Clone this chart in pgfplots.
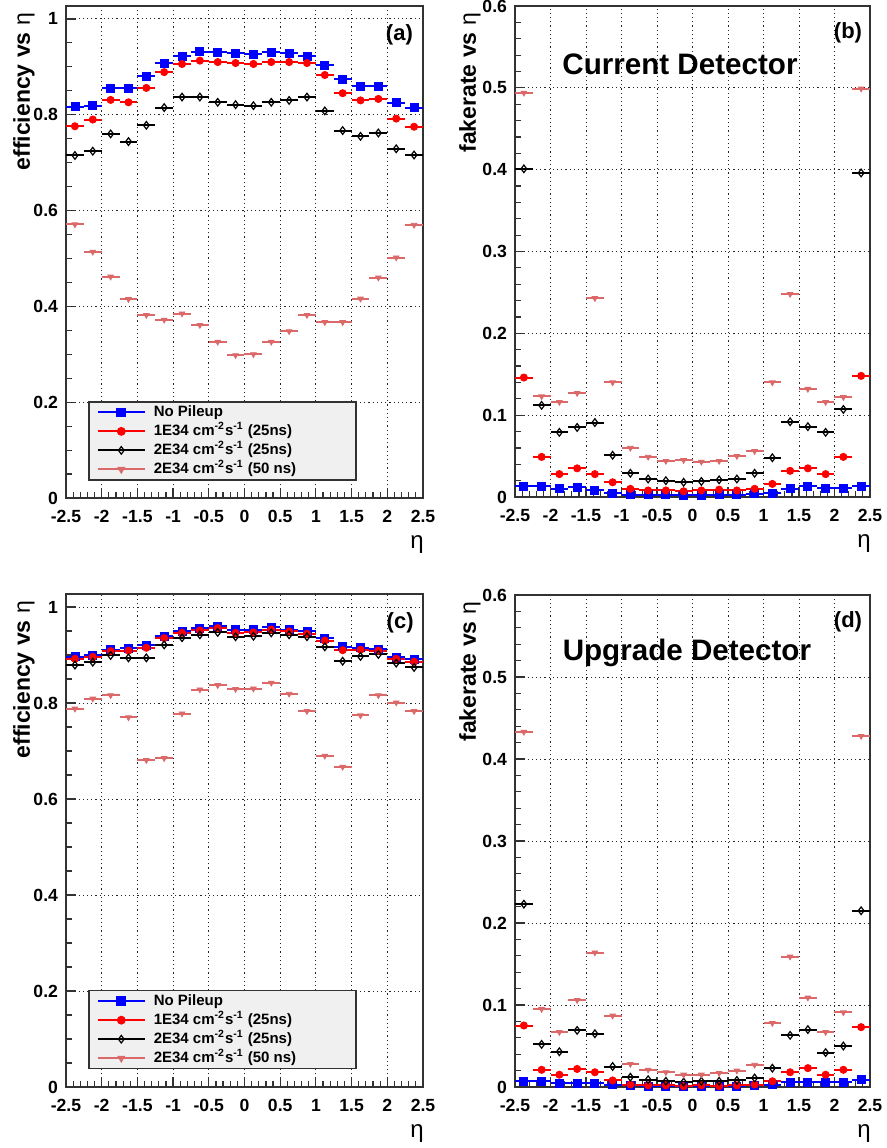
\documentclass[border=0pt]{standalone}
\usepackage{fontspec}
\setmainfont{Liberation Sans}
\usepackage{pgfplots}
\usepackage{pgfplotstable}
\pgfplotsset{compat=1.18}

\definecolor{rblue}{RGB}{0,0,255}
\definecolor{rred}{RGB}{255,0,0}
\definecolor{rpink}{RGB}{220,105,105}
\definecolor{frame}{RGB}{50,50,50}

\newcommand\tk{\bfseries\fontsize{8.8}{9}\selectfont}
\newcommand\lb{\bfseries\fontsize{11.5}{12}\selectfont}
\newcommand\lt[1]{\makebox[96pt][l]{#1}}

% eta bin centre, No Pileup, 1E34 25ns, 2E34 25ns, 2E34 50ns
\pgfplotstableread{
eta nopu r25 b25 p50
-2.375 0.817 0.776 0.715 0.571
-2.125 0.819 0.790 0.724 0.514
-1.875 0.856 0.831 0.760 0.462
-1.625 0.856 0.826 0.744 0.415
-1.375 0.880 0.856 0.778 0.382
-1.125 0.908 0.889 0.815 0.372
-0.875 0.922 0.906 0.837 0.385
-0.625 0.932 0.913 0.837 0.361
-0.375 0.931 0.910 0.826 0.326
-0.125 0.928 0.908 0.821 0.298
0.125 0.926 0.906 0.819 0.300
0.375 0.931 0.910 0.826 0.326
0.625 0.928 0.910 0.830 0.348
0.875 0.922 0.908 0.837 0.382
1.125 0.903 0.883 0.808 0.367
1.375 0.874 0.845 0.767 0.367
1.625 0.860 0.830 0.755 0.416
1.875 0.860 0.833 0.762 0.460
2.125 0.825 0.792 0.729 0.502
2.375 0.815 0.775 0.716 0.570
}\effcur

\pgfplotstableread{
eta nopu r25 b25 p50
-2.375 0.013 0.146 0.401 0.494
-2.125 0.013 0.049 0.112 0.123
-1.875 0.010 0.028 0.079 0.116
-1.625 0.012 0.035 0.085 0.127
-1.375 0.008 0.028 0.091 0.243
-1.125 0.005 0.018 0.051 0.140
-0.875 0.003 0.010 0.029 0.060
-0.625 0.003 0.008 0.022 0.049
-0.375 0.003 0.008 0.020 0.044
-0.125 0.002 0.007 0.018 0.045
0.125 0.002 0.008 0.019 0.043
0.375 0.003 0.009 0.021 0.044
0.625 0.003 0.008 0.022 0.050
0.875 0.004 0.010 0.029 0.056
1.125 0.005 0.016 0.048 0.140
1.375 0.010 0.032 0.092 0.248
1.625 0.013 0.035 0.086 0.132
1.875 0.011 0.028 0.079 0.116
2.125 0.011 0.049 0.107 0.122
2.375 0.013 0.148 0.396 0.499
}\fakecur

\pgfplotstableread{
eta nopu r25 b25 p50
-2.375 0.896 0.892 0.879 0.788
-2.125 0.899 0.896 0.885 0.809
-1.875 0.911 0.908 0.899 0.816
-1.625 0.914 0.909 0.894 0.770
-1.375 0.920 0.915 0.894 0.681
-1.125 0.939 0.935 0.921 0.685
-0.875 0.949 0.946 0.936 0.778
-0.625 0.956 0.951 0.942 0.828
-0.375 0.960 0.956 0.947 0.837
-0.125 0.953 0.946 0.938 0.829
0.125 0.953 0.947 0.939 0.830
0.375 0.958 0.953 0.946 0.842
0.625 0.953 0.949 0.942 0.819
0.875 0.949 0.944 0.938 0.783
1.125 0.935 0.930 0.917 0.690
1.375 0.917 0.910 0.887 0.667
1.625 0.915 0.911 0.897 0.774
1.875 0.912 0.909 0.901 0.816
2.125 0.895 0.892 0.883 0.801
2.375 0.891 0.886 0.874 0.783
}\effupg

\pgfplotstableread{
eta nopu r25 b25 p50
-2.375 0.007 0.075 0.223 0.433
-2.125 0.007 0.021 0.052 0.095
-1.875 0.005 0.015 0.043 0.067
-1.625 0.005 0.022 0.069 0.106
-1.375 0.005 0.018 0.065 0.164
-1.125 0.003 0.008 0.025 0.087
-0.875 0.002 0.003 0.012 0.028
-0.625 0.001 0.002 0.009 0.021
-0.375 0.001 0.002 0.007 0.018
-0.125 0.001 0.001 0.006 0.015
0.125 0.001 0.002 0.007 0.015
0.375 0.001 0.001 0.007 0.017
0.625 0.001 0.002 0.008 0.020
0.875 0.002 0.003 0.011 0.027
1.125 0.003 0.007 0.023 0.078
1.375 0.006 0.018 0.063 0.159
1.625 0.006 0.023 0.070 0.109
1.875 0.006 0.015 0.042 0.067
2.125 0.006 0.021 0.050 0.091
2.375 0.009 0.073 0.215 0.428
}\fakeupg

\pgfplotsset{
  rootaxis/.style={
    scale only axis, anchor=south west,
    xmin=-2.5, xmax=2.5,
    xtick={-2.5,-2,...,2.5}, minor x tick num=4,
    tick pos=left, tick align=inside,
    major tick length=5pt, minor tick length=2.8pt,
    tick style={frame, line width=0.6pt},
    axis line style={frame, line width=0.8pt},
    grid=major,
    major grid style={black!85, line width=0.45pt, dash pattern=on 0.6pt off 1.5pt},
    /pgf/number format/assume math mode=true,
    ticklabel style={font=\tk},
    yticklabel style={xshift=-0.5pt},
    xticklabel style={yshift=-2.5pt},
    xlabel={\mdseries η},
    xlabel style={at={(rel axis cs:0.983,-0.095)}, anchor=center, font=\fontsize{12}{13}\selectfont},
    ylabel style={anchor=east, font=\lb},
    legend cell align=left,
    legend style={at={(rel axis cs:0.0616,0.197)}, anchor=north west,
      fill=black!6, draw=frame, line width=0.8pt,
      font=\bfseries\fontsize{7.5}{8}\selectfont,
      inner xsep=4pt, inner ysep=0.5pt, row sep=0pt, column sep=3pt,
      nodes={inner sep=1pt, text height=5.8pt, text depth=1.7pt}},
    legend image code/.code={
      \draw[#1, sharp plot, mark=none, line width=1pt] plot coordinates {(0pt,0pt) (23.5pt,0pt)};
      \draw[#1] plot coordinates {(11.75pt,0pt)};
    },
  },
  effaxis/.style={rootaxis, ymin=0, ymax=1.027, ytick={0,0.2,...,1}, minor y tick num=3,
    ylabel={efficiency vs {\mdseries η}}, ylabel style={at={(rel axis cs:-0.118,1)}}},
  fakeaxis/.style={rootaxis, ymin=0, ymax=0.6, ytick={0,0.1,...,0.6}, minor y tick num=4,
    ylabel={fakerate vs {\mdseries η}}, ylabel style={at={(rel axis cs:-0.127,1)}}},
  sNo/.style={only marks, color=rblue, mark=square*, mark size=2pt,
    error bars/.cd, x dir=both, x fixed=0.125, error mark=none,
    error bar style={rblue, line width=1pt}},
  sR/.style={only marks, color=rred, mark=*, mark size=1.8pt,
    error bars/.cd, x dir=both, x fixed=0.125, error mark=none,
    error bar style={rred, line width=1pt}},
  sB/.style={only marks, color=black, mark=diamond, mark size=1.9pt,
    mark options={fill=white, line width=0.6pt},
    error bars/.cd, x dir=both, x fixed=0.125, error mark=none,
    error bar style={black, line width=1pt}},
  sP/.style={only marks, color=rpink, mark=triangle*, mark size=1.6pt,
    mark options={rotate=180},
    error bars/.cd, x dir=both, x fixed=0.125, error mark=none,
    error bar style={rpink, line width=1pt}},
}

\begin{document}
\begin{tikzpicture}
\path[use as bounding box] (0pt,0pt) rectangle (443.5pt,-574pt);

% (a) efficiency, current detector
\begin{axis}[effaxis, at={(33pt,-249pt)}, width=178.5pt, height=246pt]
\addplot[sNo] table[x=eta, y=nopu] {\effcur};
\addlegendentry{\lt{No Pileup}}
\addplot[sR] table[x=eta, y=r25] {\effcur};
\addlegendentry{\lt{1E34 cm\textsuperscript{-2}s\textsuperscript{-1} (25ns)}}
\addplot[sB] table[x=eta, y=b25] {\effcur};
\addlegendentry{\lt{2E34 cm\textsuperscript{-2}s\textsuperscript{-1} (25ns)}}
\addplot[sP] table[x=eta, y=p50] {\effcur};
\addlegendentry{\lt{2E34 cm\textsuperscript{-2}s\textsuperscript{-1} (50 ns)}}
\node[font=\bfseries\fontsize{11}{12}\selectfont] at (axis cs:2.17,0.966) {(a)};
\end{axis}

% (b) fake rate, current detector
\begin{axis}[fakeaxis, at={(257.5pt,-248.5pt)}, width=177.5pt, height=245.5pt]
\addplot[sNo] table[x=eta, y=nopu] {\fakecur};
\addplot[sR] table[x=eta, y=r25] {\fakecur};
\addplot[sB] table[x=eta, y=b25] {\fakecur};
\addplot[sP] table[x=eta, y=p50] {\fakecur};
\node[font=\bfseries\fontsize{11}{12}\selectfont] at (axis cs:2.19,0.567) {(b)};
\node[font=\bfseries\fontsize{14.8}{16}\selectfont] at (axis cs:-0.176,0.529) {Current Detector};
\end{axis}

% (c) efficiency, upgrade detector
\begin{axis}[effaxis, at={(33pt,-543.5pt)}, width=178.5pt, height=246.5pt]
\addplot[sNo] table[x=eta, y=nopu] {\effupg};
\addlegendentry{\lt{No Pileup}}
\addplot[sR] table[x=eta, y=r25] {\effupg};
\addlegendentry{\lt{1E34 cm\textsuperscript{-2}s\textsuperscript{-1} (25ns)}}
\addplot[sB] table[x=eta, y=b25] {\effupg};
\addlegendentry{\lt{2E34 cm\textsuperscript{-2}s\textsuperscript{-1} (25ns)}}
\addplot[sP] table[x=eta, y=p50] {\effupg};
\addlegendentry{\lt{2E34 cm\textsuperscript{-2}s\textsuperscript{-1} (50 ns)}}
\node[font=\bfseries\fontsize{11}{12}\selectfont] at (axis cs:2.18,0.967) {(c)};
\end{axis}

% (d) fake rate, upgrade detector
\begin{axis}[fakeaxis, at={(257.5pt,-543.5pt)}, width=177.5pt, height=246pt]
\addplot[sNo] table[x=eta, y=nopu] {\fakeupg};
\addplot[sR] table[x=eta, y=r25] {\fakeupg};
\addplot[sB] table[x=eta, y=b25] {\fakeupg};
\addplot[sP] table[x=eta, y=p50] {\fakeupg};
\node[font=\bfseries\fontsize{11}{12}\selectfont] at (axis cs:2.19,0.567) {(d)};
\node[font=\bfseries\fontsize{14.8}{16}\selectfont] at (axis cs:-0.078,0.529) {Upgrade Detector};
\end{axis}
\end{tikzpicture}
\end{document}
